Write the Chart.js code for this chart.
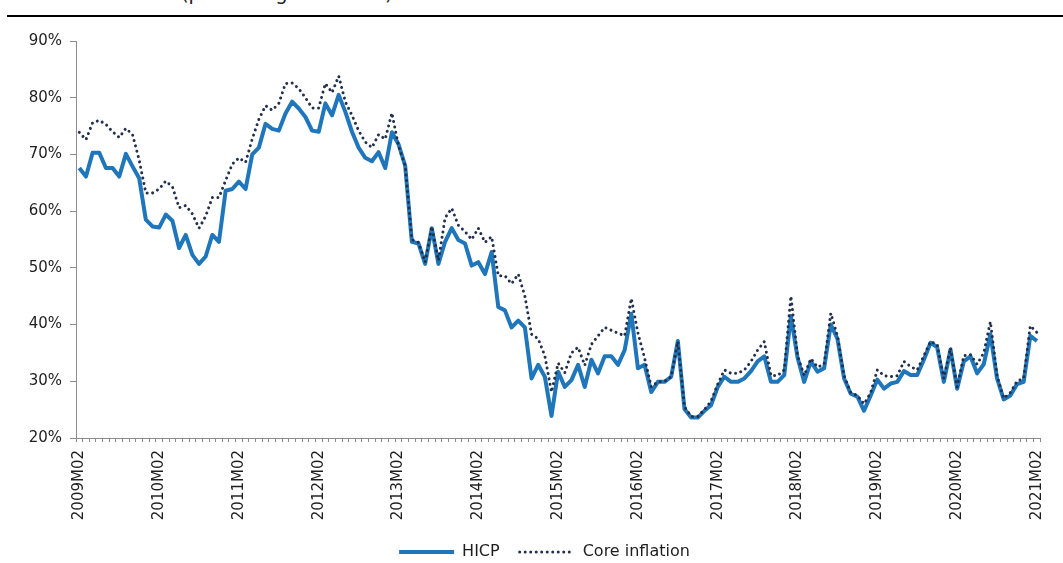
<!DOCTYPE html>
<html>
<head>
<meta charset="utf-8">
<title>HICP and core inflation</title>
<script src="https://cdn.jsdelivr.net/npm/chart.js@4.4.1/dist/chart.umd.min.js"></script>
<style>
  html, body { margin: 0; padding: 0; background: #ffffff; }
  #page { position: relative; width: 1063px; height: 563px; overflow: hidden; background: #ffffff; }
  #subtitle {
    position: absolute; left: 181px; top: -16px;
    font-family: "DejaVu Sans", sans-serif; font-size: 19.5px; line-height: 19px;
    color: #222; white-space: nowrap;
  }
  #rule { position: absolute; left: 7px; right: 0; top: 15px; height: 2px; background: #000; }
  #wrap { position: absolute; left: 0; top: 0; width: 1063px; height: 570px; }
</style>
</head>
<body>
<div id="page">
  <div id="subtitle">(percentage of items)</div>
  <div id="rule"></div>
  <div id="wrap"><canvas id="chart"></canvas></div>
</div>
<script>
// Monthly observations, February 2009 to February 2021
const startYear = 2009;
const startMonth = 2;
const monthCount = 145;

const hicp = [
  67.6, 66.1, 70.3, 70.3, 67.6, 67.6, 66.1, 70.1, 67.9, 65.8, 58.5, 57.3,
  57.1, 59.4, 58.3, 53.5, 55.8, 52.3, 50.7, 52.0, 55.8, 54.6, 63.6, 63.9,
  65.2, 63.9, 70.0, 71.2, 75.4, 74.5, 74.2, 77.2, 79.3, 78.1, 76.6, 74.2,
  74.0, 79.0, 76.9, 80.5, 77.5, 74.0, 71.2, 69.4, 68.8, 70.4, 67.6, 73.9,
  71.8, 68.0, 54.6, 54.3, 50.7, 57.0, 50.7, 54.6, 57.0, 54.9, 54.3, 50.4,
  51.0, 48.9, 52.8, 43.1, 42.5, 39.5, 40.7, 39.5, 30.5, 32.9, 30.8, 23.9,
  31.7, 29.0, 30.2, 32.9, 29.0, 33.8, 31.4, 34.4, 34.4, 32.9, 35.5, 41.9,
  32.3, 32.9, 28.1, 29.9, 29.9, 30.8, 37.1, 25.1, 23.6, 23.6, 24.8, 25.8,
  29.0, 30.8, 29.9, 29.9, 30.5, 31.8, 33.5, 34.4, 29.9, 29.9, 31.1, 41.5,
  34.2, 29.9, 33.5, 31.7, 32.3, 40.0, 37.5, 30.5, 27.8, 27.3, 24.8, 27.5,
  30.3, 28.7, 29.6, 29.9, 31.8, 31.1, 31.1, 33.8, 36.8, 36.0, 29.9, 35.6,
  28.7, 33.5, 34.4, 31.4, 33.0, 38.3, 30.5, 26.8, 27.5, 29.5, 29.9, 38.0,
  37.1
];

const coreInflation = [
  73.9, 72.6, 75.6, 76.0, 75.3, 74.0, 73.0, 74.6, 73.5, 69.0, 63.2, 63.2,
  63.9, 65.3, 64.3, 60.6, 61.0, 59.5, 57.0, 59.1, 62.4, 62.4, 65.4, 68.3,
  69.4, 68.6, 72.7, 76.2, 78.6, 77.8, 79.0, 82.5, 82.6, 81.6, 80.0, 78.2,
  78.2, 82.5, 80.9, 83.8, 79.3, 76.9, 74.2, 72.2, 71.2, 73.5, 72.7, 77.3,
  71.5, 68.0, 55.0, 54.5, 51.0, 57.3, 51.3, 58.8, 60.5, 57.5, 56.4, 55.0,
  57.0, 54.5, 55.5, 48.6, 48.6, 47.2, 48.9, 45.0, 38.3, 37.5, 34.5, 28.1,
  33.2, 31.5, 35.0, 36.0, 32.8, 36.5, 38.0, 39.5, 39.0, 38.5, 38.0, 44.6,
  38.5, 34.1, 29.0, 29.9, 30.0, 30.8, 37.0, 25.5, 23.8, 23.8, 25.0, 26.5,
  29.5, 32.0, 31.4, 31.4, 32.0, 33.5, 35.5, 37.0, 31.0, 31.0, 32.0, 45.0,
  34.5, 31.0, 34.0, 32.5, 33.0, 42.0, 38.0, 31.0, 28.0, 27.5, 26.0, 28.0,
  32.0, 31.0, 30.8, 31.0, 33.5, 32.6, 32.0, 34.5, 37.0, 36.5, 30.5, 35.9,
  29.0, 34.5, 34.7, 33.0, 35.0, 40.5, 31.0, 27.0, 28.0, 30.0, 30.5, 39.8,
  38.6
];

const yTicks = [20, 30, 40, 50, 60, 70, 80, 90];
const labelEvery = 12;

// Category labels such as 2009M02
const months = [];
for (let i = 0; i < monthCount; i++) {
  const m0 = startMonth - 1 + i;
  const y = startYear + Math.floor(m0 / 12);
  const m = (m0 % 12) + 1;
  months.push(y + 'M' + String(m).padStart(2, '0'));
}

const axisGrey = '#8c8c8c';
const textColor = '#1e1e1e';
const fontFamily = '"DejaVu Sans", Verdana, sans-serif';

// Legend samples take their dash pattern and caps from the dataset line
function legendLabels(chart) {
  const items = Chart.defaults.plugins.legend.labels.generateLabels(chart);
  items.forEach(item => {
    const ds = chart.data.datasets[item.datasetIndex];
    item.lineDash = ds.borderDash || [];
    item.lineCap = ds.borderCapStyle || 'butt';
    item.lineWidth = ds.borderWidth;
    item.strokeStyle = ds.borderColor;
  });
  return items.sort((a, b) => a.datasetIndex - b.datasetIndex);
}

// Moves the legend block a little to the right of the canvas centre
const legendOffset = {
  id: 'legendOffset',
  afterLayout(chart) {
    const shift = 21;
    if (chart.legend) {
      chart.legend.left += shift;
      chart.legend.right += shift;
    }
  }
};

new Chart(document.getElementById('chart'), {
  type: 'line',
  data: {
    labels: months,
    datasets: [
      {
        label: 'HICP',
        data: hicp,
        borderColor: '#1f76bb',
        backgroundColor: '#1f76bb',
        borderWidth: 4,
        borderJoinStyle: 'round',
        borderCapStyle: 'butt',
        pointRadius: 0,
        tension: 0,
        order: 2
      },
      {
        label: 'Core inflation',
        data: coreInflation,
        borderColor: '#23304d',
        backgroundColor: '#23304d',
        borderWidth: 3,
        borderDash: [0.01, 5.5],
        borderCapStyle: 'round',
        pointRadius: 0,
        tension: 0,
        order: 1
      }
    ]
  },
  plugins: [legendOffset],
  options: {
    responsive: true,
    maintainAspectRatio: false,
    animation: false,
    devicePixelRatio: 1,
    layout: { padding: { top: 41, right: 16, bottom: 0, left: 0 } },
    plugins: {
      tooltip: { enabled: false },
      legend: {
        position: 'bottom',
        labels: {
          usePointStyle: true,
          pointStyle: 'line',
          pointStyleWidth: 55,
          padding: 20,
          color: textColor,
          font: { family: fontFamily, size: 16 },
          generateLabels: legendLabels
        }
      }
    },
    scales: {
      x: {
        type: 'category',
        offset: true,
        grid: {
          display: true,
          offset: true,
          drawOnChartArea: false,
          drawTicks: true,
          tickLength: 4,
          color: axisGrey
        },
        border: { display: true, color: axisGrey, width: 1 },
        ticks: {
          autoSkip: false,
          maxRotation: 90,
          minRotation: 90,
          padding: 8,
          color: textColor,
          font: { family: fontFamily, size: 15 },
          callback: function (value, index) {
            return index % labelEvery === 0 ? this.getLabelForValue(value) : '';
          }
        },
        afterFit: (scale) => { scale.height = 86; }
      },
      y: {
        min: yTicks[0],
        max: yTicks[yTicks.length - 1],
        afterBuildTicks: (scale) => { scale.ticks = yTicks.map(v => ({ value: v })); },
        grid: {
          display: true,
          drawOnChartArea: false,
          drawTicks: true,
          tickLength: 6,
          color: axisGrey
        },
        border: { display: true, color: axisGrey, width: 1 },
        ticks: {
          padding: 8,
          color: textColor,
          font: { family: fontFamily, size: 15 },
          callback: (v) => v + '%'
        },
        afterFit: (scale) => { scale.width = 76; }
      }
    }
  }
});
</script>
</body>
</html>
